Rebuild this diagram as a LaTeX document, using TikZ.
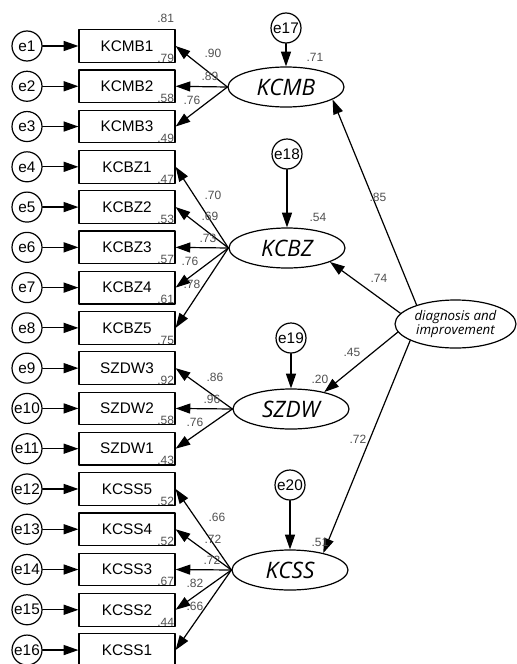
\documentclass[tikz,border=0pt]{standalone}
\usepackage{fontspec}
\setmainfont{Liberation Sans}
\newfontfamily\latfont{Open Sans}
\usetikzlibrary{arrows.meta,shapes.geometric}
\definecolor{numgray}{RGB}{80,80,80}

\begin{document}
\begin{tikzpicture}[x=0.75pt,y=-0.75pt,line cap=round,line join=round,>={Triangle[length=11pt,width=7.5pt]},
  obs/.style={draw,line width=0.9pt,minimum width=72pt,minimum height=24.5pt,inner sep=0pt,font=\fontsize{11.5pt}{13pt}\selectfont},
  err/.style={draw,circle,line width=0.9pt,minimum size=22.5pt,inner sep=0pt,font=\fontsize{11.5pt}{13pt}\selectfont},
  lat/.style={draw,ellipse,line width=0.9pt,minimum width=87pt,minimum height=30pt,inner sep=0pt,font=\latfont\itshape\fontsize{17pt}{19pt}\selectfont},
  num/.style={inner sep=1pt,text=numgray,font=\fontsize{9pt}{10pt}\selectfont},
  path/.style={->,line width=0.9pt}]
  \clip (0,0) rectangle (517,664);
  \def\dy{40.27}
  \node[lat] (KCMB) at (286,87) {KCMB};
  \node[lat] (KCBZ) at (287,248) {KCBZ};
  \node[lat] (SZDW) at (291,409) {SZDW};
  \node[lat] (KCSS) at (290,570) {KCSS};
  \node[lat,minimum width=90.75pt,minimum height=36pt,inner xsep=-5pt,align=center,font=\latfont\itshape\fontsize{10pt}{11pt}\selectfont] (diag) at (455.5,324) {diagnosis and\\improvement};
  \node[err] (e17) at (286,28) {e17};
  \node[err] (e18) at (287,154) {e18};
  \node[err] (e19) at (291,338) {e19};
  \node[err] (e20) at (290,485) {e20};
  \foreach \i/\lab/\rsq/\lv in {1/KCMB1/.81/KCMB,2/KCMB2/.79/KCMB,3/KCMB3/.58/KCMB,
    4/KCBZ1/.49/KCBZ,5/KCBZ2/.47/KCBZ,6/KCBZ3/.53/KCBZ,7/KCBZ4/.57/KCBZ,8/KCBZ5/.61/KCBZ,
    9/SZDW3/.75/SZDW,10/SZDW2/.92/SZDW,11/SZDW1/.58/SZDW,
    12/KCSS5/.43/KCSS,13/KCSS4/.52/KCSS,14/KCSS3/.52/KCSS,15/KCSS2/.67/KCSS,16/KCSS1/.44/KCSS}{
    \node[obs] (m\i) at (127,{46+\dy*(\i-1)}) {\lab};
    \node[err] (e\i) at (27,{46+\dy*(\i-1)}) {e\i};
    \draw[path] (e\i) -- (m\i);
    \draw[path] (\lv.west) -- (m\i.east);
    \node[num,anchor=south east,yshift=4pt] (r\i) at (m\i.north east) {\rsq};
  }
  \draw[path] (e17) -- (KCMB);
  \draw[path] (e18) -- (KCBZ);
  \draw[path] (e19) -- (SZDW);
  \draw[path] (e20) -- (KCSS);
  \draw[path] (diag.154) -- (KCMB.-15);
  \draw[path] (diag.169) -- (KCBZ.-18);
  \draw[path] (diag.188) -- (SZDW.27);
  \draw[path] (diag.200) -- (KCSS.27);
  \foreach \lx/\ly/\w [count=\k] in {213/53/.90,210/76/.89,192/100/.76,
    213/195/.70,210/216/.69,208/238/.73,190/261/.76,192/284/.78,
    215/377/.86,212/399/.96,195/422/.76,
    217/517/.66,213/539/.72,212/560/.72,195/583/.82,195/606/.66,
    378/197/.85,379/278/.74,352/352/.45,358/439/.72,
    315/57/.71,318/217/.54,320/379/.20,320/542/.51}
    \node[num] (w\k) at (\lx,\ly) {\w};
\end{tikzpicture}
\end{document}
